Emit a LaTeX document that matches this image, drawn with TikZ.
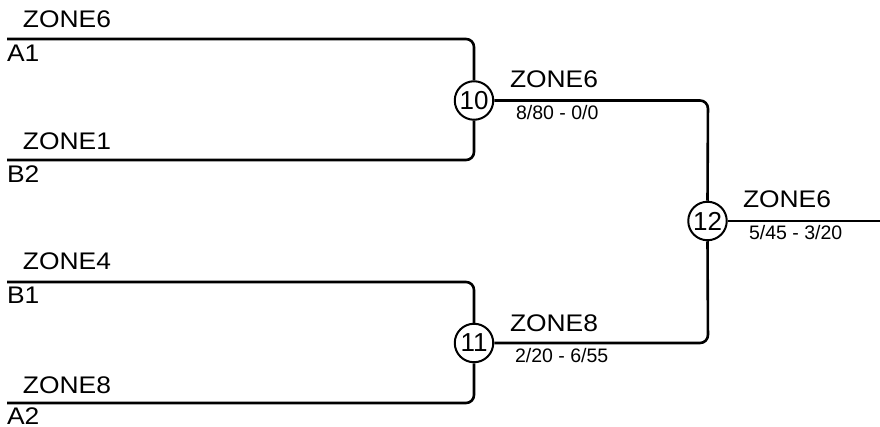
\documentclass[tikz,border=0pt]{standalone}
\usepackage{fontspec}
\usepackage{graphicx}
\setmainfont{Liberation Sans}
\newcommand{\zlab}[1]{\scalebox{1.1}[1]{\fontsize{24}{27}\selectfont #1}}
\newcommand{\slab}[1]{{\fontsize{19.5}{22}\selectfont #1}}
\tikzset{
  wire/.style={line width=2.6pt, rounded corners=8pt},
  matchc/.style={circle, draw, line width=2pt, minimum size=38.5pt, inner sep=0pt, font=\fontsize{26}{28}\selectfont},
  lab/.style={anchor=base west, inner sep=0pt, outer sep=0pt},
}
\begin{document}
\begin{tikzpicture}[x=1pt,y=-1pt]
\useasboundingbox (0,0) rectangle (880,427);
% match circles
\node[matchc] (c10) at (474,100.5) {10};
\node[matchc] (c11) at (474,343) {11};
\node[matchc] (c12) at (707.5,221) {12};
% leaf start points
\coordinate (a1) at (7,39);
\coordinate (b2) at (7,160);
\coordinate (b1) at (7,282);
\coordinate (a2) at (7,403);
\coordinate (out) at (880,221);
% connectors
\draw[wire] (a1) -- (474,39) -- (c10.north);
\draw[wire] (b2) -- (474,160) -- (c10.south);
\draw[wire] (b1) -- (474,282) -- (c11.north);
\draw[wire] (a2) -- (474,403) -- (c11.south);
\draw[wire] (c10.east) -- (708,100.5) -- (c12.north);
\draw[wire] (c11.east) -- (708,343) -- (c12.south);
\draw[wire] (c12.east) -- (out);
% labels
\node[lab] (t1) at (23,28) {\zlab{ZONE6}};
\node[lab] (l1) at (7,62) {\zlab{A1}};
\node[lab] (t2) at (23,150) {\zlab{ZONE1}};
\node[lab] (l2) at (7,183) {\zlab{B2}};
\node[lab] (t3) at (23,270) {\zlab{ZONE4}};
\node[lab] (l3) at (7,304) {\zlab{B1}};
\node[lab] (t4) at (23,393) {\zlab{ZONE8}};
\node[lab] (l4) at (7,424) {\zlab{A2}};
\node[lab] (t5) at (510,88) {\zlab{ZONE6}};
\node[lab] (s5) at (516,120) {\slab{8/80 - 0/0}};
\node[lab] (t6) at (510,331) {\zlab{ZONE8}};
\node[lab] (s6) at (515,362) {\slab{2/20 - 6/55}};
\node[lab] (t7) at (743,208) {\zlab{ZONE6}};
\node[lab] (s7) at (749,240) {\slab{5/45 - 3/20}};
\end{tikzpicture}
\end{document}
